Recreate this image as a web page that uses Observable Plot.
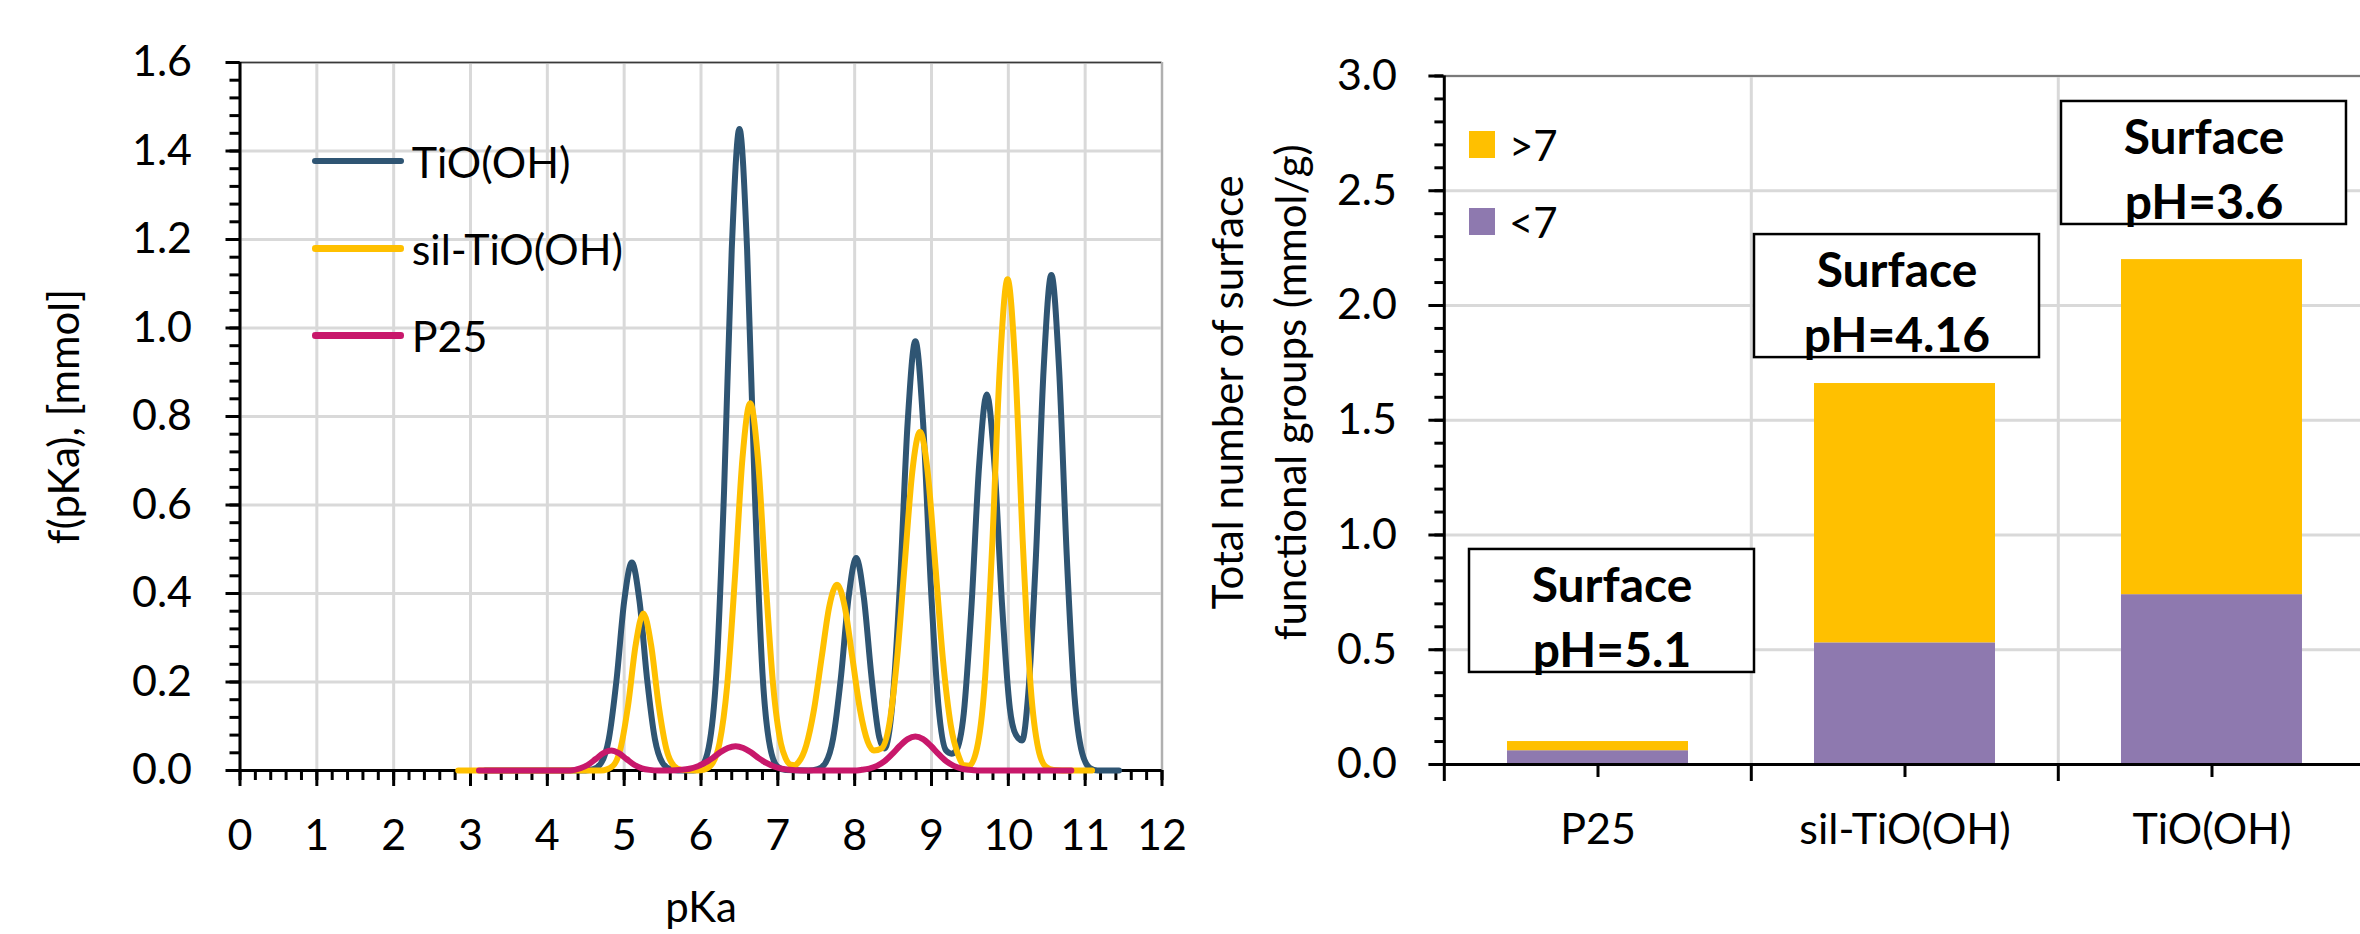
<!DOCTYPE html>
<html>
<head>
<meta charset="utf-8">
<script src="https://cdn.jsdelivr.net/npm/d3@7"></script>
<script src="https://cdn.jsdelivr.net/npm/@observablehq/plot@0.6"></script>
<style>
  html, body { margin: 0; padding: 0; background: #fff; overflow: hidden; }
  #wrap { position: relative; width: 2360px; height: 934px; overflow: hidden; background: #fff; font-family: Lato, sans-serif; color: #000; }
  #left { position: absolute; left: 0; top: 0; width: 1200px; height: 934px; }
  #right { position: absolute; left: 1200px; top: 0; width: 1166px; height: 934px; }
  .legrow { position: absolute; display: flex; align-items: center; height: 60px; white-space: nowrap; font-size: 43px; line-height: 1; }
  .sw-line { width: 92px; height: 6.5px; border-radius: 3.25px; margin-right: 8px; }
</style>
</head>
<body>
<div id="wrap">
  <div id="left"></div>
  <div id="right"></div>
</div>
<script>
// ---------------- Data: left chart, pKa spectra (pKa, f(pKa) in mmol) ----------------
const seriesNames = ["TiO(OH)", "sil-TiO(OH)", "P25"];
const seriesColors = ["#2F5573", "#FFC000", "#C8186B"];

const tioOH = [[3.19,0],[4.5,0],[4.6,0.003],[4.7,0.017],[4.8,0.071],[4.9,0.204],[5.0,0.382],[5.1,0.47],[5.2,0.382],[5.3,0.204],[5.4,0.071],[5.5,0.017],[5.6,0.003],[5.7,0],[5.9,0],[6.0,0.008],[6.1,0.052],[6.2,0.22],[6.3,0.631],[6.4,1.177],[6.5,1.45],[6.6,1.177],[6.7,0.631],[6.8,0.22],[6.9,0.052],[7.0,0.008],[7.1,0.001],[7.4,0],[7.52,0.003],[7.62,0.017],[7.72,0.073],[7.82,0.209],[7.92,0.39],[8.02,0.48],[8.12,0.39],[8.22,0.21],[8.32,0.075],[8.39,0.05],[8.49,0.15],[8.59,0.423],[8.69,0.788],[8.79,0.97],[8.89,0.788],[8.99,0.422],[9.09,0.147],[9.19,0.045],[9.26,0.038],[9.32,0.045],[9.42,0.129],[9.52,0.37],[9.62,0.69],[9.72,0.85],[9.82,0.69],[9.92,0.37],[10.02,0.14],[10.1,0.08],[10.18,0.068],[10.26,0.175],[10.36,0.487],[10.46,0.909],[10.56,1.12],[10.66,0.909],[10.76,0.487],[10.86,0.17],[10.96,0.04],[11.06,0.006],[11.16,0],[11.44,0]];

const silTiOOH = [[2.84,0],[4.7,0],[4.85,0.01],[4.95,0.048],[5.05,0.146],[5.15,0.284],[5.25,0.355],[5.35,0.284],[5.45,0.146],[5.55,0.048],[5.65,0.01],[5.75,0.001],[5.95,0],[6.04,0.002],[6.14,0.014],[6.24,0.061],[6.34,0.191],[6.44,0.432],[6.54,0.706],[6.64,0.83],[6.74,0.706],[6.84,0.432],[6.94,0.191],[7.04,0.061],[7.1,0.028],[7.17,0.013],[7.22,0.012],[7.27,0.019],[7.37,0.057],[7.47,0.137],[7.57,0.255],[7.67,0.371],[7.77,0.42],[7.87,0.371],[7.97,0.255],[8.07,0.137],[8.17,0.065],[8.25,0.045],[8.35,0.05],[8.45,0.104],[8.55,0.249],[8.65,0.464],[8.75,0.675],[8.85,0.765],[8.95,0.675],[9.05,0.464],[9.15,0.249],[9.25,0.103],[9.35,0.034],[9.42,0.012],[9.49,0.011],[9.59,0.049],[9.69,0.191],[9.79,0.508],[9.89,0.914],[9.99,1.11],[10.09,0.914],[10.19,0.508],[10.29,0.191],[10.39,0.049],[10.49,0.008],[10.59,0.001],[10.7,0],[11.09,0]];

const p25 = [[3.11,0],[4.3,0],[4.43,0.005],[4.53,0.013],[4.63,0.026],[4.73,0.039],[4.83,0.045],[4.93,0.039],[5.03,0.026],[5.13,0.013],[5.23,0.005],[5.33,0.0014],[5.45,0],[5.6,0],[5.75,0.0015],[5.85,0.004],[5.95,0.009],[6.05,0.017],[6.15,0.028],[6.25,0.041],[6.35,0.051],[6.45,0.055],[6.55,0.051],[6.65,0.041],[6.75,0.028],[6.85,0.017],[6.95,0.009],[7.05,0.004],[7.15,0.0015],[7.3,0],[7.99,0],[8.09,0.0015],[8.19,0.0043],[8.29,0.0104],[8.39,0.021],[8.49,0.0375],[8.59,0.056],[8.69,0.071],[8.79,0.077],[8.89,0.071],[8.99,0.056],[9.09,0.0375],[9.19,0.021],[9.29,0.0104],[9.39,0.0043],[9.49,0.0015],[9.6,0],[10.82,0]];

const pKaTicks = [0,1,2,3,4,5,6,7,8,9,10,11,12];
const fTicks = [0,0.2,0.4,0.6,0.8,1.0,1.2,1.4,1.6];

// ---------------- Data: right chart, surface functional groups (mmol/g) ----------------
const materials = ["P25", "sil-TiO(OH)", "TiO(OH)"];
const below7 = [0.06, 0.53, 0.74];
const above7 = [0.04, 1.13, 1.46];
const surfacePH = ["pH=5.1", "pH=4.16", "pH=3.6"];
const groupNames = ["<7", ">7"];
const groupColors = ["#8E79AF", "#FFC000"];
const totalTicks = [0,0.5,1.0,1.5,2.0,2.5,3.0];

// annotation box placement (in value units) and horizontal nudge (px)
const boxTop = [0.937, 2.309, 2.889];
const boxBottom = [0.401, 1.773, 2.353];
const boxNudge = [14, -8, -8];

// ---------------- Left chart ----------------
const lineSets = [tioOH, silTiOOH, p25];
const minorX = d3.range(0, 60.5).map(i => i / 5);
const minorY = d3.range(0, 40.5).map(i => i / 25);
const gridStyle = {stroke: "#d9d9d9", strokeOpacity: 1, strokeWidth: 3};

const leftPlot = Plot.plot({
  width: 1200, height: 934,
  marginLeft: 239.5, marginRight: 38.5, marginTop: 62, marginBottom: 164,
  style: {fontFamily: "Lato, sans-serif", fontSize: "43px", color: "#000", background: "transparent", maxWidth: "none"},
  x: {domain: [0, 12], label: null},
  y: {domain: [0, 1.6], label: null},
  marks: [
    Plot.gridX({ticks: pKaTicks, ...gridStyle}),
    Plot.gridY({ticks: fTicks, ...gridStyle}),
    Plot.ruleY([1.6], {stroke: "#3a3a3a", strokeWidth: 1.5}),
    Plot.ruleX([12], {stroke: "#b0b0b0", strokeWidth: 2}),
    Plot.axisY({ticks: minorY, tickSize: 10, tickFormat: () => "", strokeWidth: 3, label: null}),
    Plot.axisY({ticks: fTicks, tickSize: 14, tickPadding: 34, tickFormat: d => d.toFixed(1), fontSize: 43, strokeWidth: 3, label: null}),
    Plot.axisX({ticks: minorX, tickSize: 10, tickFormat: () => "", strokeWidth: 3, label: null}),
    Plot.axisX({ticks: pKaTicks, tickSize: 16, tickPadding: 33, tickFormat: d => String(d), fontSize: 43, strokeWidth: 3, label: null}),
    Plot.ruleX([0], {stroke: "#000", strokeWidth: 3}),
    Plot.ruleY([0], {stroke: "#000", strokeWidth: 3}),
    ...lineSets.map((pts, i) => Plot.line(pts, {
      x: d => d[0], y: d => d[1], stroke: seriesColors[i], strokeWidth: 6,
      curve: "monotone-x", strokeLinejoin: "round", strokeLinecap: "round"
    })),
    Plot.text(["pKa"], {text: d => d, frameAnchor: "bottom", dy: 138, fontSize: 42, lineAnchor: "middle", textAnchor: "middle"}),
    Plot.text(["f(pKa), [mmol]"], {text: d => d, frameAnchor: "left", dx: -174.5, rotate: -90, fontSize: 42, lineAnchor: "middle", textAnchor: "middle"})
  ]
});
document.getElementById("left").appendChild(leftPlot);

// ---------------- Right chart ----------------
const rightWidth = 1165.6, rightMarginLeft = 243.4;
const step = (rightWidth - rightMarginLeft) / materials.length;
const barRows = materials.flatMap((m, i) => [
  {material: m, group: "<7", value: below7[i]},
  {material: m, group: ">7", value: above7[i]}
]);
const minorTotal = d3.range(0, 30.5).map(i => i / 10);

const boxMarks = materials.flatMap((m, i) => [
  Plot.barY([i], {x: d => materials[d], y1: d => boxBottom[d], y2: d => boxTop[d],
    fill: "white", stroke: "#000", strokeWidth: 2.5, insetLeft: -52, insetRight: -52, dx: boxNudge[i]}),
  Plot.text([i], {x: d => materials[d], y: d => (boxTop[d] + boxBottom[d]) / 2,
    text: d => "Surface\n" + surfacePH[d], fontWeight: "bold", fontSize: 48, lineHeight: 1.35,
    lineAnchor: "middle", textAnchor: "middle", dx: boxNudge[i], dy: 3})
]);

const rightPlot = Plot.plot({
  width: rightWidth, height: 934,
  marginLeft: rightMarginLeft, marginRight: 0, marginTop: 75.5, marginBottom: 170,
  style: {fontFamily: "Lato, sans-serif", fontSize: "43px", color: "#000", background: "transparent", maxWidth: "none"},
  x: {type: "band", domain: materials, paddingInner: 0.41, paddingOuter: 0.205, label: null},
  y: {domain: [0, 3], label: null},
  color: {domain: groupNames, range: groupColors},
  marks: [
    Plot.gridY({ticks: totalTicks, ...gridStyle}),
    Plot.ruleX(materials.slice(1), {dx: -step / 2, ...gridStyle}),
    Plot.ruleY([3], {stroke: "#7a7a7a", strokeWidth: 2}),
    Plot.barY(barRows, {x: "material", y: "value", fill: "group"}),
    Plot.axisY({ticks: minorTotal, tickSize: 9, tickFormat: () => "", strokeWidth: 3, label: null}),
    Plot.axisY({ticks: totalTicks, tickSize: 15, tickPadding: 32, tickFormat: d => d.toFixed(1), fontSize: 43, strokeWidth: 3, label: null}),
    Plot.axisX({tickSize: 13, tickPadding: 36, fontSize: 43, strokeWidth: 3, label: null}),
    Plot.axisX({tickSize: 17, dx: -step / 2, tickFormat: () => "", strokeWidth: 3, label: null}),
    Plot.ruleY([0], {stroke: "#000", strokeWidth: 3}),
    Plot.ruleX([materials[0]], {dx: -step / 2, stroke: "#000", strokeWidth: 3}),
    ...boxMarks,
    Plot.text(["Total number of surface\nfunctional groups (mmol/g)"], {text: d => d, frameAnchor: "left",
      dx: -190, dy: -28, rotate: -90, fontSize: 42, lineHeight: 1.5, lineAnchor: "middle", textAnchor: "middle"})
  ]
});
document.getElementById("right").appendChild(rightPlot);

// ---------------- Legends (HTML overlays) ----------------
const wrap = document.getElementById("wrap");
const leftLegendY = [161, 248.7, 335.7];
seriesNames.forEach((name, i) => {
  const row = document.createElement("div");
  row.className = "legrow";
  row.style.left = "311.7px";
  row.style.top = (leftLegendY[i] - 30) + "px";
  const sw = document.createElement("div");
  sw.className = "sw-line";
  sw.style.background = seriesColors[i];
  const tx = document.createElement("span");
  tx.textContent = name;
  row.appendChild(sw); row.appendChild(tx);
  wrap.appendChild(row);
});

const rightLegendY = [144.5, 221.5];
[1, 0].forEach((gi, k) => {
  const row = document.createElement("div");
  row.className = "legrow";
  row.style.left = "1469px";
  row.style.top = (rightLegendY[k] - 30) + "px";
  row.style.fontSize = "42px";
  const sw = document.createElement("div");
  sw.style.width = "26px"; sw.style.height = "27px"; sw.style.marginRight = "14px";
  sw.style.background = groupColors[gi];
  const tx = document.createElement("span");
  tx.textContent = groupNames[gi];
  row.appendChild(sw); row.appendChild(tx);
  wrap.appendChild(row);
});
</script>
</body>
</html>
